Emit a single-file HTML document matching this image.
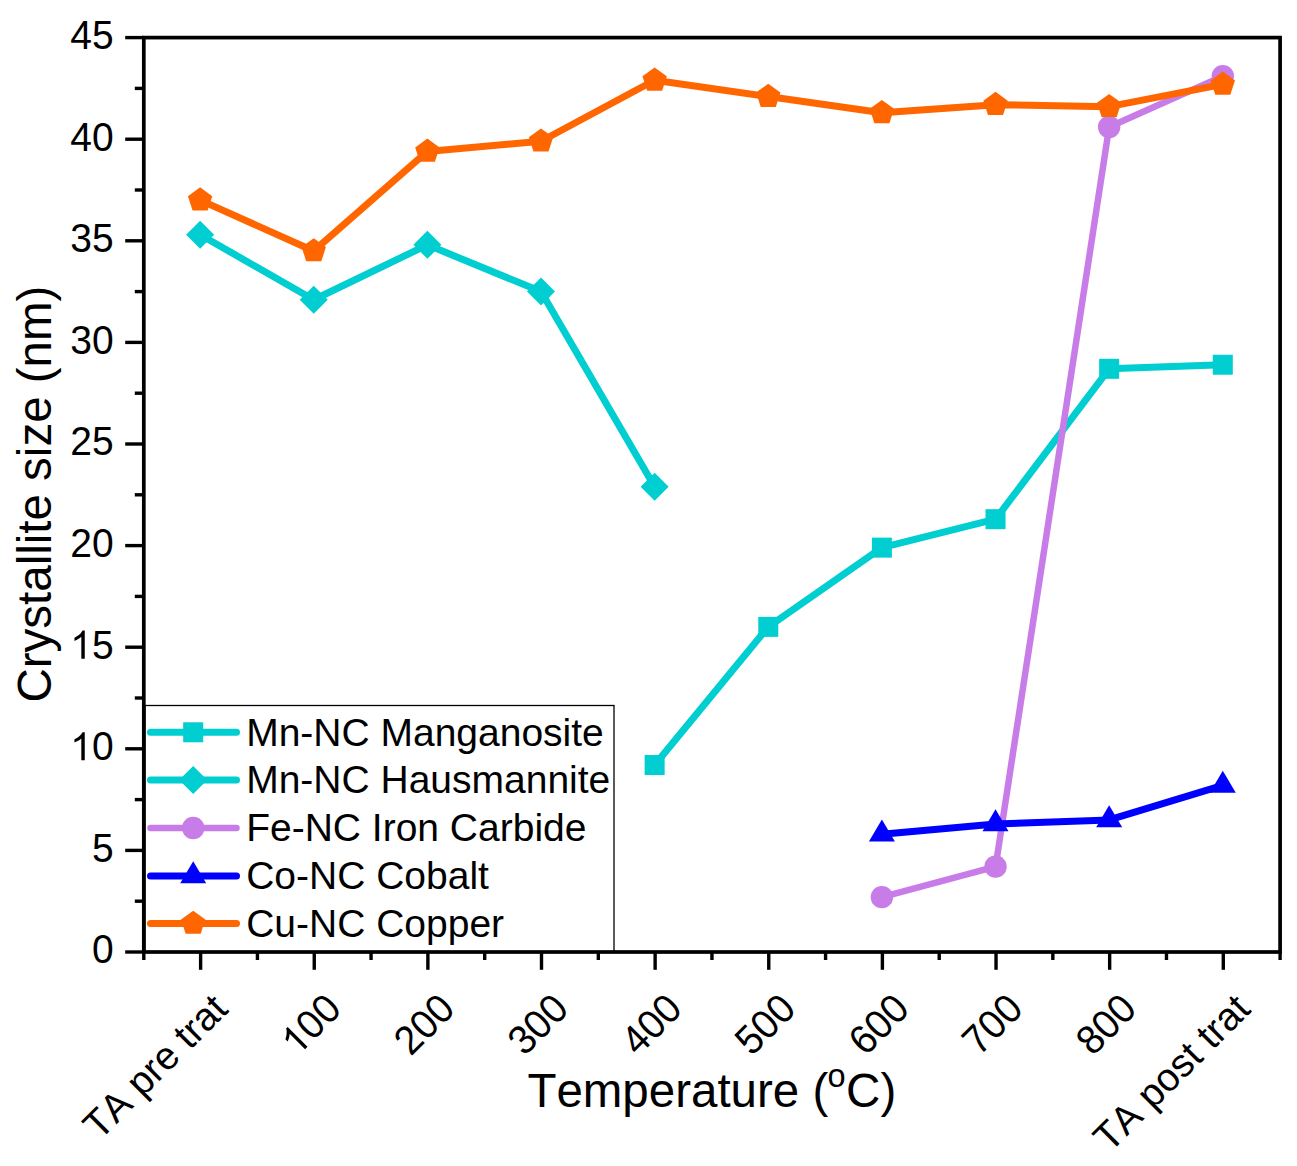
<!DOCTYPE html>
<html><head><meta charset="utf-8"><style>
html,body{margin:0;padding:0;background:#fff;}
body{width:1297px;height:1166px;overflow:hidden;}
svg{display:block;}
text{font-family:"Liberation Sans",sans-serif;fill:#000;font-kerning:none;}
</style></head><body>
<svg width="1297" height="1166" viewBox="0 0 1297 1166">
<rect width="1297" height="1166" fill="#fff"/>
<polyline points="654.63,765.06 768.26,626.88 881.89,547.63 995.53,519.18 1109.15,368.82 1222.79,364.75" fill="none" stroke="#00CED1" stroke-width="7" stroke-linejoin="round" stroke-linecap="round"/>
<polyline points="200.12,234.70 313.75,299.73 427.38,244.86 541.00,291.60 654.63,486.67" fill="none" stroke="#00CED1" stroke-width="7" stroke-linejoin="round" stroke-linecap="round"/>
<polyline points="881.89,897.14 995.53,866.66 1109.15,127.01 1222.79,76.21" fill="none" stroke="#C77CE8" stroke-width="6.5" stroke-linejoin="round" stroke-linecap="round"/>
<polyline points="881.89,834.14 995.53,823.98 1109.15,819.92 1222.79,785.38" fill="none" stroke="#0000FF" stroke-width="7" stroke-linejoin="round" stroke-linecap="round"/>
<polyline points="200.12,200.16 313.75,250.96 427.38,151.39 541.00,141.23 654.63,80.27 768.26,96.53 881.89,112.78 995.53,104.66 1109.15,106.69 1222.79,84.34" fill="none" stroke="#FF6600" stroke-width="7" stroke-linejoin="round" stroke-linecap="round"/>
<rect x="644.63" y="755.06" width="20" height="20" fill="#00CED1"/>
<rect x="758.26" y="616.88" width="20" height="20" fill="#00CED1"/>
<rect x="871.89" y="537.63" width="20" height="20" fill="#00CED1"/>
<rect x="985.53" y="509.18" width="20" height="20" fill="#00CED1"/>
<rect x="1099.15" y="358.82" width="20" height="20" fill="#00CED1"/>
<rect x="1212.79" y="354.75" width="20" height="20" fill="#00CED1"/>
<polygon points="200.12,220.70 214.12,234.70 200.12,248.70 186.12,234.70" fill="#00CED1"/>
<polygon points="313.75,285.73 327.75,299.73 313.75,313.73 299.75,299.73" fill="#00CED1"/>
<polygon points="427.38,230.86 441.38,244.86 427.38,258.86 413.38,244.86" fill="#00CED1"/>
<polygon points="541.00,277.60 555.00,291.60 541.00,305.60 527.00,291.60" fill="#00CED1"/>
<polygon points="654.63,472.67 668.63,486.67 654.63,500.67 640.63,486.67" fill="#00CED1"/>
<circle cx="881.89" cy="897.14" r="11.2" fill="#C77CE8"/>
<circle cx="995.53" cy="866.66" r="11.2" fill="#C77CE8"/>
<circle cx="1109.15" cy="127.01" r="11.2" fill="#C77CE8"/>
<circle cx="1222.79" cy="76.21" r="11.2" fill="#C77CE8"/>
<polygon points="881.89,819.48 894.89,841.48 868.89,841.48" fill="#0000FF"/>
<polygon points="995.53,809.32 1008.53,831.32 982.53,831.32" fill="#0000FF"/>
<polygon points="1109.15,805.25 1122.15,827.25 1096.15,827.25" fill="#0000FF"/>
<polygon points="1222.79,770.71 1235.79,792.71 1209.79,792.71" fill="#0000FF"/>
<polygon points="200.12,187.36 212.29,196.20 207.64,210.52 192.59,210.52 187.94,196.20" fill="#FF6600"/>
<polygon points="313.75,238.16 325.92,247.00 321.27,261.32 306.22,261.32 301.57,247.00" fill="#FF6600"/>
<polygon points="427.38,138.59 439.55,147.44 434.90,161.75 419.85,161.75 415.20,147.44" fill="#FF6600"/>
<polygon points="541.00,128.43 553.18,137.28 548.53,151.59 533.48,151.59 528.83,137.28" fill="#FF6600"/>
<polygon points="654.63,67.47 666.81,76.32 662.16,90.63 647.11,90.63 642.46,76.32" fill="#FF6600"/>
<polygon points="768.26,83.73 780.44,92.57 775.79,106.88 760.74,106.88 756.09,92.57" fill="#FF6600"/>
<polygon points="881.89,99.98 894.07,108.83 889.42,123.14 874.37,123.14 869.72,108.83" fill="#FF6600"/>
<polygon points="995.53,91.86 1007.70,100.70 1003.05,115.01 988.00,115.01 983.35,100.70" fill="#FF6600"/>
<polygon points="1109.15,93.89 1121.33,102.73 1116.68,117.04 1101.63,117.04 1096.98,102.73" fill="#FF6600"/>
<polygon points="1222.79,71.54 1234.96,80.38 1230.31,94.69 1215.26,94.69 1210.61,80.38" fill="#FF6600"/>
<rect x="145.0" y="705.5" width="469.0" height="246.5" fill="#fff" stroke="#000" stroke-width="1.3"/>
<line x1="150.5" y1="732.3" x2="236.5" y2="732.3" stroke="#00CED1" stroke-width="7" stroke-linecap="round"/>
<rect x="183.20" y="722.30" width="20" height="20" fill="#00CED1"/>
<text transform="translate(246.2,745.60) scale(1,1.01)" font-size="39">Mn-NC Manganosite</text>
<line x1="150.5" y1="780.0" x2="236.5" y2="780.0" stroke="#00CED1" stroke-width="7" stroke-linecap="round"/>
<polygon points="193.20,766.00 207.20,780.00 193.20,794.00 179.20,780.00" fill="#00CED1"/>
<text transform="translate(246.2,793.30) scale(1,1.01)" font-size="39">Mn-NC Hausmannite</text>
<line x1="150.5" y1="828.0" x2="236.5" y2="828.0" stroke="#C77CE8" stroke-width="6.5" stroke-linecap="round"/>
<circle cx="193.20" cy="828.00" r="11.2" fill="#C77CE8"/>
<text transform="translate(246.2,841.30) scale(1,1.01)" font-size="39">Fe-NC Iron Carbide</text>
<line x1="150.5" y1="876.0" x2="236.5" y2="876.0" stroke="#0000FF" stroke-width="7" stroke-linecap="round"/>
<polygon points="193.20,861.33 206.20,883.33 180.20,883.33" fill="#0000FF"/>
<text transform="translate(246.2,889.30) scale(1,1.01)" font-size="39">Co-NC Cobalt</text>
<line x1="150.5" y1="923.5" x2="236.5" y2="923.5" stroke="#FF6600" stroke-width="7" stroke-linecap="round"/>
<polygon points="193.20,910.70 205.37,919.54 200.72,933.86 185.68,933.86 181.03,919.54" fill="#FF6600"/>
<text transform="translate(246.2,936.80) scale(1,1.01)" font-size="39">Cu-NC Copper</text>
<rect x="143.8" y="37.6" width="1136.30" height="914.40" fill="none" stroke="#000" stroke-width="3.7"/>
<line x1="125.2" y1="952.00" x2="143.8" y2="952.00" stroke="#000" stroke-width="3.4"/>
<g transform="translate(113.6,963.45) scale(1,1.04)"><text x="-21.69" y="0" font-size="39">0</text></g>
<line x1="134.8" y1="901.20" x2="143.8" y2="901.20" stroke="#000" stroke-width="3.4"/>
<line x1="125.2" y1="850.40" x2="143.8" y2="850.40" stroke="#000" stroke-width="3.4"/>
<g transform="translate(113.6,861.85) scale(1,1.04)"><text x="-21.69" y="0" font-size="39">5</text></g>
<line x1="134.8" y1="799.60" x2="143.8" y2="799.60" stroke="#000" stroke-width="3.4"/>
<line x1="125.2" y1="748.80" x2="143.8" y2="748.80" stroke="#000" stroke-width="3.4"/>
<g transform="translate(113.6,760.25) scale(1,1.04)"><path transform="translate(-43.38,0) scale(0.01904,-0.01831)" d="M763,0 L583,0 L583,1147 Q518,1085 465,1054 Q412,1023 359.5,992 Q307,961 223,930 L223,1104 Q374,1175 430.5,1225.5 Q487,1276 543.5,1326.5 Q600,1377 647,1472 L763,1472 Z" fill="#000"/><text x="-21.69" y="0" font-size="39">0</text></g>
<line x1="134.8" y1="698.00" x2="143.8" y2="698.00" stroke="#000" stroke-width="3.4"/>
<line x1="125.2" y1="647.20" x2="143.8" y2="647.20" stroke="#000" stroke-width="3.4"/>
<g transform="translate(113.6,658.65) scale(1,1.04)"><path transform="translate(-43.38,0) scale(0.01904,-0.01831)" d="M763,0 L583,0 L583,1147 Q518,1085 465,1054 Q412,1023 359.5,992 Q307,961 223,930 L223,1104 Q374,1175 430.5,1225.5 Q487,1276 543.5,1326.5 Q600,1377 647,1472 L763,1472 Z" fill="#000"/><text x="-21.69" y="0" font-size="39">5</text></g>
<line x1="134.8" y1="596.40" x2="143.8" y2="596.40" stroke="#000" stroke-width="3.4"/>
<line x1="125.2" y1="545.60" x2="143.8" y2="545.60" stroke="#000" stroke-width="3.4"/>
<g transform="translate(113.6,557.05) scale(1,1.04)"><text x="-43.38" y="0" font-size="39">2</text><text x="-21.69" y="0" font-size="39">0</text></g>
<line x1="134.8" y1="494.80" x2="143.8" y2="494.80" stroke="#000" stroke-width="3.4"/>
<line x1="125.2" y1="444.00" x2="143.8" y2="444.00" stroke="#000" stroke-width="3.4"/>
<g transform="translate(113.6,455.45) scale(1,1.04)"><text x="-43.38" y="0" font-size="39">2</text><text x="-21.69" y="0" font-size="39">5</text></g>
<line x1="134.8" y1="393.20" x2="143.8" y2="393.20" stroke="#000" stroke-width="3.4"/>
<line x1="125.2" y1="342.40" x2="143.8" y2="342.40" stroke="#000" stroke-width="3.4"/>
<g transform="translate(113.6,353.85) scale(1,1.04)"><text x="-43.38" y="0" font-size="39">3</text><text x="-21.69" y="0" font-size="39">0</text></g>
<line x1="134.8" y1="291.60" x2="143.8" y2="291.60" stroke="#000" stroke-width="3.4"/>
<line x1="125.2" y1="240.80" x2="143.8" y2="240.80" stroke="#000" stroke-width="3.4"/>
<g transform="translate(113.6,252.25) scale(1,1.04)"><text x="-43.38" y="0" font-size="39">3</text><text x="-21.69" y="0" font-size="39">5</text></g>
<line x1="134.8" y1="190.00" x2="143.8" y2="190.00" stroke="#000" stroke-width="3.4"/>
<line x1="125.2" y1="139.20" x2="143.8" y2="139.20" stroke="#000" stroke-width="3.4"/>
<g transform="translate(113.6,150.65) scale(1,1.04)"><text x="-43.38" y="0" font-size="39">4</text><text x="-21.69" y="0" font-size="39">0</text></g>
<line x1="134.8" y1="88.40" x2="143.8" y2="88.40" stroke="#000" stroke-width="3.4"/>
<line x1="125.2" y1="37.60" x2="143.8" y2="37.60" stroke="#000" stroke-width="3.4"/>
<g transform="translate(113.6,49.05) scale(1,1.04)"><text x="-43.38" y="0" font-size="39">4</text><text x="-21.69" y="0" font-size="39">5</text></g>
<line x1="143.80" y1="952.0" x2="143.80" y2="960" stroke="#000" stroke-width="3.4"/>
<line x1="200.62" y1="952.0" x2="200.62" y2="969.8" stroke="#000" stroke-width="3.4"/>
<line x1="257.43" y1="952.0" x2="257.43" y2="960" stroke="#000" stroke-width="3.4"/>
<line x1="314.25" y1="952.0" x2="314.25" y2="969.8" stroke="#000" stroke-width="3.4"/>
<line x1="371.06" y1="952.0" x2="371.06" y2="960" stroke="#000" stroke-width="3.4"/>
<line x1="427.88" y1="952.0" x2="427.88" y2="969.8" stroke="#000" stroke-width="3.4"/>
<line x1="484.69" y1="952.0" x2="484.69" y2="960" stroke="#000" stroke-width="3.4"/>
<line x1="541.50" y1="952.0" x2="541.50" y2="969.8" stroke="#000" stroke-width="3.4"/>
<line x1="598.32" y1="952.0" x2="598.32" y2="960" stroke="#000" stroke-width="3.4"/>
<line x1="655.13" y1="952.0" x2="655.13" y2="969.8" stroke="#000" stroke-width="3.4"/>
<line x1="711.95" y1="952.0" x2="711.95" y2="960" stroke="#000" stroke-width="3.4"/>
<line x1="768.76" y1="952.0" x2="768.76" y2="969.8" stroke="#000" stroke-width="3.4"/>
<line x1="825.58" y1="952.0" x2="825.58" y2="960" stroke="#000" stroke-width="3.4"/>
<line x1="882.39" y1="952.0" x2="882.39" y2="969.8" stroke="#000" stroke-width="3.4"/>
<line x1="939.21" y1="952.0" x2="939.21" y2="960" stroke="#000" stroke-width="3.4"/>
<line x1="996.03" y1="952.0" x2="996.03" y2="969.8" stroke="#000" stroke-width="3.4"/>
<line x1="1052.84" y1="952.0" x2="1052.84" y2="960" stroke="#000" stroke-width="3.4"/>
<line x1="1109.65" y1="952.0" x2="1109.65" y2="969.8" stroke="#000" stroke-width="3.4"/>
<line x1="1166.47" y1="952.0" x2="1166.47" y2="960" stroke="#000" stroke-width="3.4"/>
<line x1="1223.29" y1="952.0" x2="1223.29" y2="969.8" stroke="#000" stroke-width="3.4"/>
<line x1="1280.10" y1="952.0" x2="1280.10" y2="960" stroke="#000" stroke-width="3.4"/>
<text transform="translate(229.62,1011.00) rotate(-45) scale(1,1.01)" font-size="39" text-anchor="end">TA pre trat</text>
<g transform="translate(343.25,1011.00) rotate(-45) scale(1,1.04)"><path transform="translate(-65.07,0) scale(0.01904,-0.01831)" d="M763,0 L583,0 L583,1147 Q518,1085 465,1054 Q412,1023 359.5,992 Q307,961 223,930 L223,1104 Q374,1175 430.5,1225.5 Q487,1276 543.5,1326.5 Q600,1377 647,1472 L763,1472 Z" fill="#000"/><text x="-43.38" y="0" font-size="39">0</text><text x="-21.69" y="0" font-size="39">0</text></g>
<g transform="translate(456.88,1011.00) rotate(-45) scale(1,1.04)"><text x="-65.07" y="0" font-size="39">2</text><text x="-43.38" y="0" font-size="39">0</text><text x="-21.69" y="0" font-size="39">0</text></g>
<g transform="translate(570.50,1011.00) rotate(-45) scale(1,1.04)"><text x="-65.07" y="0" font-size="39">3</text><text x="-43.38" y="0" font-size="39">0</text><text x="-21.69" y="0" font-size="39">0</text></g>
<g transform="translate(684.13,1011.00) rotate(-45) scale(1,1.04)"><text x="-65.07" y="0" font-size="39">4</text><text x="-43.38" y="0" font-size="39">0</text><text x="-21.69" y="0" font-size="39">0</text></g>
<g transform="translate(797.76,1011.00) rotate(-45) scale(1,1.04)"><text x="-65.07" y="0" font-size="39">5</text><text x="-43.38" y="0" font-size="39">0</text><text x="-21.69" y="0" font-size="39">0</text></g>
<g transform="translate(911.39,1011.00) rotate(-45) scale(1,1.04)"><text x="-65.07" y="0" font-size="39">6</text><text x="-43.38" y="0" font-size="39">0</text><text x="-21.69" y="0" font-size="39">0</text></g>
<g transform="translate(1025.03,1011.00) rotate(-45) scale(1,1.04)"><text x="-65.07" y="0" font-size="39">7</text><text x="-43.38" y="0" font-size="39">0</text><text x="-21.69" y="0" font-size="39">0</text></g>
<g transform="translate(1138.65,1011.00) rotate(-45) scale(1,1.04)"><text x="-65.07" y="0" font-size="39">8</text><text x="-43.38" y="0" font-size="39">0</text><text x="-21.69" y="0" font-size="39">0</text></g>
<text transform="translate(1252.29,1011.00) rotate(-45) scale(1,1.01)" font-size="39" text-anchor="end">TA post trat</text>
<g transform="translate(0,1106.6) scale(1,1.01)"><text x="527.4" y="0" font-size="47.5">Temperature (</text><text x="827.6" y="-19.8" font-size="32.5">o</text><text x="846.1" y="0" font-size="47.5">C)</text></g>
<text transform="translate(50.6,702.5) rotate(-90) scale(1,1.01)" font-size="47.5">Crystallite size (nm)</text>
</svg></body></html>
